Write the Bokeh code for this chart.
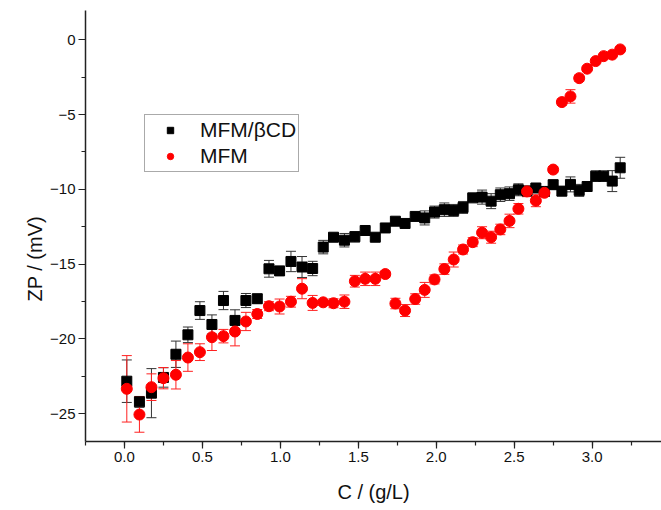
from bokeh.plotting import figure
from bokeh.models import (ColumnDataSource, Range1d, SingleIntervalTicker, NumeralTickFormatter,
                          Whisker, TeeHead, Legend, LegendItem, Title)
from bokeh.embed import file_html
from bokeh.resources import INLINE

# concentration (g/L)
conc = [0.015, 0.096, 0.173, 0.250, 0.330, 0.407, 0.484, 0.561, 0.635, 0.709,
        0.779, 0.852, 0.927, 0.995, 1.068, 1.139, 1.207, 1.275, 1.341, 1.411,
        1.478, 1.544, 1.609, 1.673, 1.738, 1.800, 1.865, 1.926, 1.989, 2.052,
        2.112, 2.172, 2.234, 2.294, 2.352, 2.411, 2.470, 2.527, 2.582, 2.639,
        2.694, 2.750, 2.806, 2.861, 2.917, 2.968, 3.023, 3.074, 3.129, 3.180]

# MFM/betaCD zeta potential (mV) and error
zp_cd = [-22.82, -24.20, -23.62, -22.57, -21.02, -19.72, -18.10, -19.03, -17.43, -18.76,
         -17.43, -17.31, -15.31, -15.45, -14.82, -15.19, -15.29, -13.86, -13.20, -13.40,
         -13.17, -12.75, -13.20, -12.58, -12.13, -12.28, -11.81, -11.91, -11.52, -11.36,
         -11.41, -11.21, -10.57, -10.52, -10.79, -10.36, -10.29, -10.03, -10.11, -9.91,
         -10.14, -9.69, -10.12, -9.67, -10.07, -9.81, -9.12, -9.12, -9.45, -8.56]
err_cd = [1.42, 0.36, 1.64, 0.65, 0.88, 0.52, 0.59, 0.64, 0.61, 0.71,
          0.47, 0.30, 0.56, 0.30, 0.68, 0.70, 0.48, 0.45, 0.25, 0.45,
          0.35, 0.20, 0.20, 0.20, 0.20, 0.20, 0.20, 0.47, 0.40, 0.45,
          0.40, 0.40, 0.20, 0.47, 0.50, 0.45, 0.45, 0.40, 0.30, 0.25,
          0.30, 0.30, 0.30, 0.50, 0.40, 0.30, 0.35, 0.35, 0.70, 0.70]

# MFM zeta potential (mV) and error
zp_mfm = [-23.33, -25.05, -23.22, -22.62, -22.39, -21.24, -20.88, -19.88, -19.81, -19.50,
          -18.83, -18.33, -17.81, -17.83, -17.51, -16.64, -17.59, -17.55, -17.61, -17.51,
          -16.14, -15.98, -15.98, -15.66, -17.63, -18.10, -17.33, -16.72, -16.02, -15.33,
          -14.69, -14.02, -13.53, -12.90, -13.20, -12.68, -12.11, -11.30, -10.14, -10.76,
          -10.23, -8.68, -4.17, -3.79, -2.57, -1.94, -1.43, -1.10, -1.00, -0.65]
err_mfm = [2.22, 1.18, 0.89, 0.71, 0.95, 0.92, 0.56, 0.89, 0.45, 0.96,
           0.61, 0.30, 0.30, 0.50, 0.36, 0.67, 0.50, 0.20, 0.30, 0.45,
           0.39, 0.45, 0.45, 0.20, 0.35, 0.40, 0.35, 0.50, 0.30, 0.35,
           0.50, 0.30, 0.30, 0.40, 0.40, 0.35, 0.45, 0.35, 0.35, 0.40,
           0.20, 0.20, 0.20, 0.45, 0.20, 0.10, 0.10, 0.10, 0.10, 0.10]

series_names = ["MFM/\u03b2CD", "MFM"]
x_title = "C / (g/L)"
y_title = "ZP / (mV)"
x_ticks_interval = 0.5
y_ticks_interval = 5

src_cd = ColumnDataSource(dict(x=conc, y=zp_cd,
                               lo=[a - b for a, b in zip(zp_cd, err_cd)],
                               hi=[a + b for a, b in zip(zp_cd, err_cd)]))
src_mfm = ColumnDataSource(dict(x=conc, y=zp_mfm,
                                lo=[a - b for a, b in zip(zp_mfm, err_mfm)],
                                hi=[a + b for a, b in zip(zp_mfm, err_mfm)]))

FONT = "Liberation Sans"

p = figure(width=661, height=510, output_backend="svg", toolbar_location=None,
           x_range=Range1d(-0.25, 3.445), y_range=Range1d(-26.85, 1.95),
           min_border_left=85, min_border_right=0, min_border_top=10, min_border_bottom=69)
p.outline_line_color = None
p.xgrid.visible = False
p.ygrid.visible = False
p.background_fill_color = "white"
p.border_fill_color = "white"

p.xaxis.ticker = SingleIntervalTicker(interval=x_ticks_interval, num_minor_ticks=2)
p.yaxis.ticker = SingleIntervalTicker(interval=y_ticks_interval, num_minor_ticks=2)
p.xaxis.formatter = NumeralTickFormatter(format="0.0")
for ax in (p.xaxis[0], p.yaxis[0]):
    ax.axis_line_color = "#222222"
    ax.axis_line_width = 1.5
    ax.major_tick_line_color = "#222222"
    ax.minor_tick_line_color = "#222222"
    ax.major_tick_line_width = 1.2
    ax.minor_tick_line_width = 1.2
    ax.major_tick_in = 0
    ax.major_tick_out = 7
    ax.minor_tick_in = 0
    ax.minor_tick_out = 4
    ax.major_label_text_font = FONT
    ax.major_label_text_font_size = "15px"
    ax.major_label_text_color = "#111111"
    ax.major_label_standoff = 3

xa = p.xaxis[0]
xa.axis_label = x_title
xa.axis_label_text_font = FONT
xa.axis_label_text_font_size = "20px"
xa.axis_label_text_font_style = "normal"
xa.axis_label_text_color = "#111111"
xa.axis_label_standoff = 16

# y title as a side title (offset along the axis, like the original)
p.add_layout(Title(text=y_title, align="left", offset=140, text_font=FONT,
                   text_font_size="20px", text_font_style="normal",
                   text_color="#111111", standoff=4), "left")

p.add_layout(Whisker(source=src_cd, base="x", upper="hi", lower="lo",
                     line_color="#333333", line_width=1,
                     upper_head=TeeHead(size=10, line_color="#333333", line_width=1),
                     lower_head=TeeHead(size=10, line_color="#333333", line_width=1)))
r_cd = p.scatter("x", "y", source=src_cd, marker="square", size=10,
                 fill_color="black", line_color="black")
p.add_layout(Whisker(source=src_mfm, base="x", upper="hi", lower="lo",
                     line_color="#ff2020", line_width=1,
                     upper_head=TeeHead(size=10, line_color="#ff2020", line_width=1),
                     lower_head=TeeHead(size=10, line_color="#ff2020", line_width=1)))
r_mfm = p.scatter("x", "y", source=src_mfm, marker="circle", size=11,
                  fill_color="red", line_color="red")

legend = Legend(items=[LegendItem(label=series_names[0], renderers=[r_cd]),
                       LegendItem(label=series_names[1], renderers=[r_mfm])],
                location=(59, 269))
legend.label_text_font = FONT
legend.label_text_font_size = "21px"
legend.label_text_color = "#111111"
legend.glyph_width = 46
legend.glyph_height = 16
legend.label_height = 26
legend.label_standoff = 7
legend.spacing = 0
legend.padding = 2
legend.margin = 0
legend.border_line_color = "#555555"
legend.border_line_width = 1
legend.background_fill_alpha = 1
p.add_layout(legend)

open("out.html", "w").write(file_html(p, INLINE))
